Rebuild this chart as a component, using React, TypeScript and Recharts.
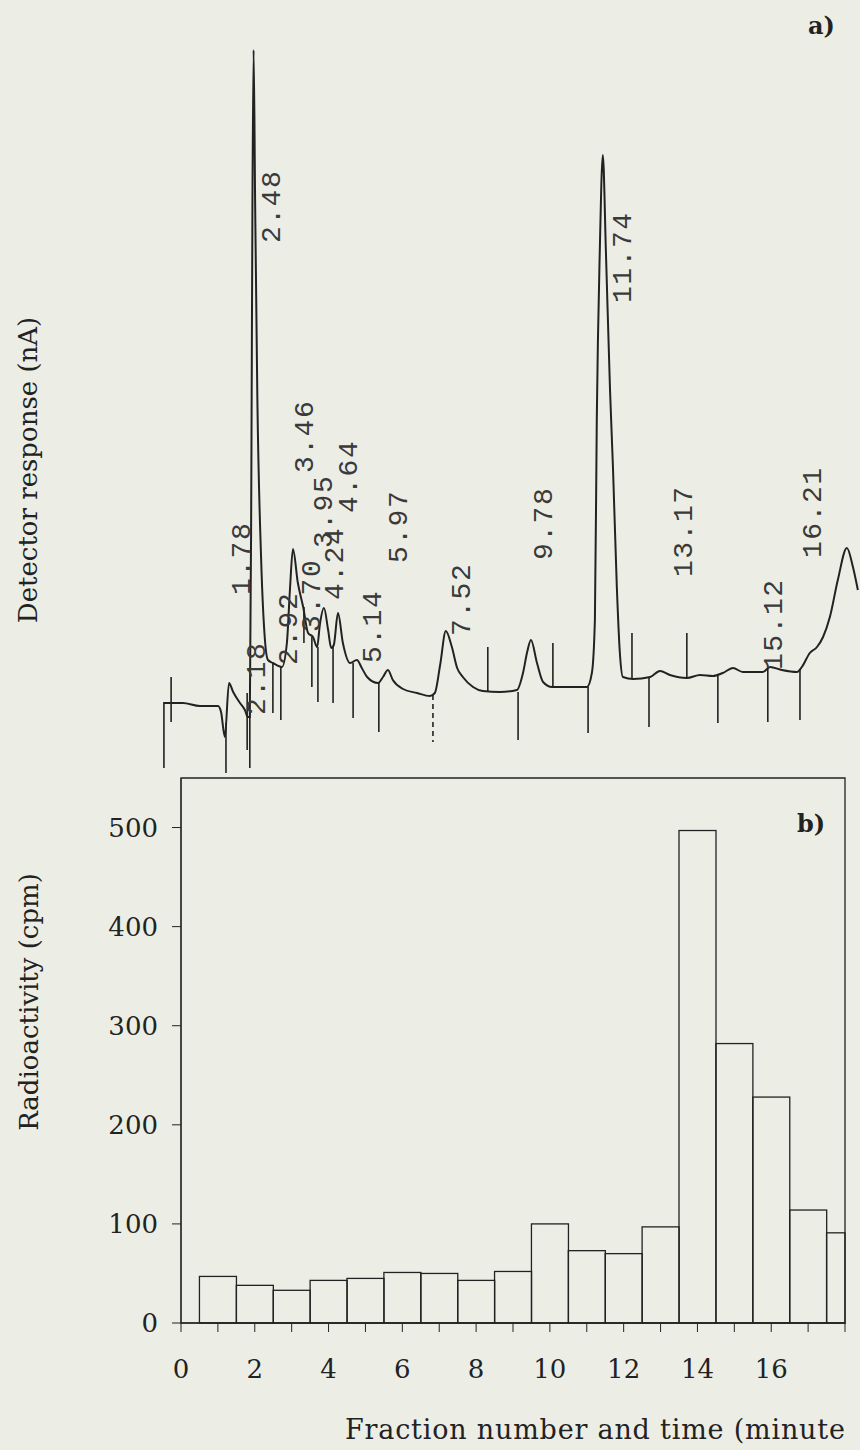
import {
  ComposedChart,
  Line,
  Bar,
  Scatter,
  XAxis,
  YAxis,
  ReferenceLine,
  ReferenceArea,
} from "recharts";

const BG = "#eceee6";
const INK = "#222";
const SERIF = "'DejaVu Serif', serif";
const MONO = "'Liberation Mono', monospace";

// a) chromatogram: time (min) vs detector response (arbitrary nA units)
const traceTime = [
  0.13, 0.63, 1.08, 1.56, 1.64, 1.74, 1.85, 1.96, 2.14, 2.27, 2.35, 2.4, 2.44,
  2.47, 2.5, 2.54, 2.6, 2.7, 2.8, 2.88, 3.01, 3.25, 3.38, 3.46, 3.54, 3.67,
  3.81, 3.94, 4.07, 4.18, 4.25, 4.36, 4.47, 4.55, 4.62, 4.73, 4.86, 5.05, 5.23,
  5.36, 5.5, 5.79, 5.92, 6.05, 6.18, 6.45, 6.82, 7.16, 7.29, 7.43, 7.58, 7.74,
  7.88, 8.03, 8.3, 8.56, 9.01, 9.46, 9.62, 9.73, 9.83, 9.99, 10.15, 10.39,
  11.31, 11.44, 11.52, 11.57, 11.65, 11.73, 11.81, 11.92, 12.0, 12.1, 12.18,
  12.26, 12.53, 12.98, 13.24, 13.5, 13.95, 14.3, 14.64, 14.9, 15.17, 15.43,
  15.96, 16.15, 16.46, 16.86, 16.99, 17.2, 17.39, 17.55, 17.73, 17.94, 18.18,
  18.34, 18.47,
];
const traceResponse = [
  7.7, 7.7, 7.4, 7.4, 6.8, 4.3, 9.7, 8.8, 7.7, 7.0, 6.3, 6.3, 30.0, 58.0, 73.0,
  58.0, 38.0, 22.0, 14.0, 12.0, 11.7, 11.3, 13.7, 19.0, 23.1, 19.7, 17.3, 14.7,
  14.3, 13.3, 15.5, 17.2, 15.0, 13.2, 13.5, 16.7, 13.7, 11.7, 12.0, 11.2, 10.3,
  9.7, 10.3, 11.0, 10.0, 9.1, 8.7, 8.4, 8.7, 11.5, 14.9, 13.3, 11.2, 10.3, 9.3,
  8.9, 8.8, 9.0, 10.7, 12.8, 14.0, 11.7, 9.8, 9.3, 9.3, 10.7, 16.0, 36.0, 53.0,
  62.5, 53.0, 39.0, 31.0, 19.3, 12.7, 10.3, 10.1, 10.3, 10.9, 10.5, 10.2, 10.5,
  10.4, 10.7, 11.2, 10.8, 10.8, 11.3, 11.0, 10.8, 11.3, 12.7, 13.3, 14.3, 16.3,
  20.0, 23.2, 21.3, 19.0,
];

// integrator event marks (time, top, bottom)
const markTime = [
  0.13, 0.32, 1.77, 2.33, 2.4, 3.01, 3.22, 3.83, 4.04, 4.2, 4.6, 5.13, 5.81,
  7.24, 8.69, 9.49, 10.41, 11.34, 12.5, 12.95, 13.95, 14.77, 16.09, 16.94,
];
const markTop = [
  7.8, 10.3, 5.7, 8.7, 7.0, 11.7, 11.3, 17.3, 14.3, 13.3, 13.3, 11.7, 9.7, 8.5,
  13.3, 8.8, 13.7, 9.3, 14.7, 10.2, 14.7, 10.5, 11.3, 11.0,
];
const markBottom = [
  1.2, 5.8, 0.7, 3.0, 1.2, 6.7, 6.0, 13.7, 9.3, 7.8, 7.7, 6.2, 4.8, 3.8, 8.8,
  4.0, 9.3, 4.7, 10.1, 5.3, 10.2, 5.7, 5.8, 6.0,
];
const DASHED_MARK = 13;

// retention time printouts
const peakText = [
  "1.78", "2.18", "2.48", "2.92", "3.46", "3.70", "3.95", "4.24", "4.64",
  "5.14", "5.97", "7.52", "9.78", "11.74", "13.17", "15.12", "16.21",
];
const peakLabelTime = [
  2.4, 2.8, 3.2, 3.65, 4.07, 4.25, 4.57, 4.86, 5.23, 5.87, 6.55, 8.22, 10.39,
  12.47, 14.09, 16.46, 17.49,
];
const peakLabelResponse = [
  18.5, 6.5, 53.7, 11.5, 30.7, 14.8, 23.2, 18.0, 26.7, 11.7, 21.7, 14.4, 22.0,
  47.7, 20.3, 11.0, 22.2,
];

// b) radioactivity per fraction
const fractions = [1, 2, 3, 4, 5, 6, 7, 8, 9, 10, 11, 12, 13, 14, 15, 16, 17, 18];
const cpm = [47, 38, 33, 43, 45, 51, 50, 43, 52, 100, 73, 70, 97, 497, 282, 228, 114, 91];
const xTicks = [0, 1, 2, 3, 4, 5, 6, 7, 8, 9, 10, 11, 12, 13, 14, 15, 16, 17, 18];
const yTicks = [0, 100, 200, 300, 400, 500];

const traceData = traceTime.map((t, i) => ({ t, v: traceResponse[i] }));
const marks = markTime.map((t, i) => ({ t, top: markTop[i], bottom: markBottom[i] }));
const labelData = peakText.map((text, i) => ({
  t: peakLabelTime[i],
  v: peakLabelResponse[i],
  text,
}));
const barData = fractions.map((f, i) => ({ f, cpm: cpm[i] }));

const PLOT_B_RIGHT = 845;

function PeakLabel(props: any) {
  const { cx, cy, payload } = props;
  return (
    <text
      x={cx}
      y={cy}
      transform={`rotate(-90 ${cx} ${cy})`}
      fontFamily={MONO}
      fontSize={28}
      letterSpacing={1.5}
      fill="#3a3a3a">
      {payload.text}
    </text>
  );
}

function HistBar(props: any) {
  const { x, y, width, height } = props;
  const w = Math.min(width, PLOT_B_RIGHT - x);
  return (
    <rect x={x} y={y} width={w} height={height} fill="none" stroke={INK} strokeWidth={1.3} />
  );
}

function SideTitle({ text, x, y }: { text: string; x: number; y: number }) {
  return (
    <text
      x={x}
      y={y}
      transform={`rotate(-90 ${x} ${y})`}
      textAnchor="middle"
      fontFamily={SERIF}
      fontSize={26}
      fill={INK}>
      {text}
    </text>
  );
}

const panelTag: React.CSSProperties = {
  position: "absolute",
  fontFamily: SERIF,
  fontWeight: "bold",
  fontSize: 24,
  color: INK,
  lineHeight: 1,
};

export default function App() {
  return (
    <div
      style={{
        position: "absolute",
        left: 0,
        top: 0,
        width: 860,
        height: 1450,
        background: BG,
        overflow: "hidden",
      }}>
      <div style={{ position: "absolute", left: 0, top: 0 }}>
        <ComposedChart width={860} height={780} margin={{ top: 30, right: 1, bottom: 0, left: 0 }}>
          <XAxis dataKey="t" type="number" domain={[0, 18.5]} hide allowDataOverflow />
          <YAxis
            type="number"
            domain={[0, 75]}
            width={159}
            tick={false}
            tickLine={false}
            axisLine={false}
            label={{
              value: "Detector response (nA)",
              content: () => <SideTitle text="Detector response (nA)" x={37} y={470} />,
            }}
          />
          {marks.map((m, i) => (
            <ReferenceLine
              key={i}
              segment={[
                { x: m.t, y: m.top },
                { x: m.t, y: m.bottom },
              ]}
              stroke={INK}
              strokeWidth={1.6}
              strokeDasharray={i === DASHED_MARK ? "5 4" : undefined}
            />
          ))}
          <Line
            data={traceData}
            dataKey="v"
            type="monotone"
            dot={false}
            stroke={INK}
            strokeWidth={2}
            isAnimationActive={false}
          />
          <Scatter data={labelData} dataKey="v" shape={PeakLabel} isAnimationActive={false} />
        </ComposedChart>
      </div>
      <div style={{ ...panelTag, left: 808, top: 14 }}>a)</div>

      <div style={{ position: "absolute", left: 0, top: 760 }}>
        <ComposedChart
          width={860}
          height={690}
          data={barData}
          margin={{ top: 18, right: 15, bottom: 0, left: 0 }}
          barCategoryGap={0}
          barGap={0}>
          <XAxis
            xAxisId="b"
            dataKey="f"
            type="number"
            domain={[0, 18]}
            ticks={xTicks}
            interval={0}
            tickFormatter={(v: number) => (v % 2 === 0 && v < 18 ? String(v) : "")}
            tickSize={9}
            tickMargin={28}
            height={127}
            stroke={INK}
            tick={{ fill: INK, fontSize: 26, fontFamily: SERIF }}
            label={{
              value: "Fraction number and time (minute",
              content: () => (
                <text x={345} y={679} fontFamily={SERIF} fontSize={27} fill={INK} letterSpacing={0.8}>
                  Fraction number and time (minute
                </text>
              ),
            }}
          />
          <YAxis
            yAxisId="b"
            type="number"
            domain={[0, 550]}
            ticks={yTicks}
            tickSize={9}
            tickMargin={14}
            width={181}
            stroke={INK}
            tick={{ fill: INK, fontSize: 26, fontFamily: SERIF }}
            label={{
              value: "Radioactivity (cpm)",
              content: () => <SideTitle text="Radioactivity (cpm)" x={38} y={242} />,
            }}
          />
          <ReferenceArea
            xAxisId="b"
            yAxisId="b"
            x1={0}
            x2={18}
            y1={0}
            y2={550}
            fill="none"
            stroke={INK}
            strokeWidth={1.3}
          />
          <Bar
            xAxisId="b"
            yAxisId="b"
            dataKey="cpm"
            shape={HistBar}
            isAnimationActive={false}
          />
        </ComposedChart>
      </div>
      <div style={{ ...panelTag, left: 797, top: 812 }}>b)</div>
    </div>
  );
}
